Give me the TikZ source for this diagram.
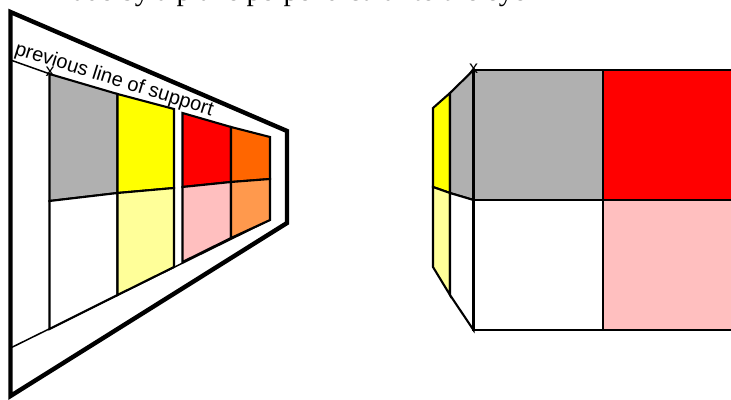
\documentclass[tikz,border=0pt]{standalone}
\usepackage{fontspec}
\setmainfont{Liberation Serif}
\setsansfont{Liberation Sans}
\definecolor{CellGray}{RGB}{176,176,176}
\definecolor{CellYellow}{RGB}{255,255,0}
\definecolor{PaleYellow}{RGB}{255,255,153}
\definecolor{CellRed}{RGB}{255,0,0}
\definecolor{CellPink}{RGB}{255,191,191}
\definecolor{CellOrange}{RGB}{255,102,0}
\definecolor{PaleOrange}{RGB}{255,153,77}
\tikzset{
  frameline/.style={draw=black,line width=4.4pt,line join=miter},
  cellline/.style={draw=black,line width=2.1pt,line join=miter},
  thinline/.style={draw=black,line width=1.5pt},
  marklabel/.style={font=\sffamily\fontsize{18}{18}\selectfont,inner sep=0pt},
  supportlabel/.style={font=\sffamily\fontsize{20}{20}\selectfont,inner sep=0pt,rotate=-17.4},
  cutlabel/.style={font=\fontsize{29}{30}\selectfont,inner sep=0pt,anchor=base west}
}
\begin{document}
\begin{tikzpicture}[x=1pt,y=-1pt]
\useasboundingbox (0,0) rectangle (731,399);
\node[cutlabel] (cutline) at (50,0.5) {made by a plane perpendicular to the eye};
% left: view along the wall
\draw[frameline] (10.5,12) -- (287,131) -- (287,223) -- (10.5,396) -- cycle;
\draw[thinline] (10.5,60) -- (50,74);
\draw[thinline] (10.5,348) -- (270,220);
\draw[cellline,fill=CellGray] (49.5,74) -- (117.5,94) -- (117.5,193) -- (49.5,201) -- cycle;
\draw[cellline,fill=white] (49.5,201) -- (117.5,193) -- (117.5,295) -- (49.5,329) -- cycle;
\draw[cellline,fill=CellYellow] (117.5,94) -- (174,109) -- (174,188) -- (117.5,193) -- cycle;
\draw[cellline,fill=PaleYellow] (117.5,193) -- (174,188) -- (174,267) -- (117.5,295) -- cycle;
\draw[cellline,fill=CellRed] (182.5,113) -- (231,127) -- (231,182) -- (182.5,187) -- cycle;
\draw[cellline,fill=CellPink] (182.5,187) -- (231,182) -- (231,238) -- (182.5,262) -- cycle;
\draw[cellline,fill=CellOrange] (231,127) -- (270,137) -- (270,179) -- (231,182) -- cycle;
\draw[cellline,fill=PaleOrange] (231,182) -- (270,179) -- (270,220) -- (231,238) -- cycle;
\node[supportlabel] (support) at (114,80) {previous line of support};
\node[marklabel] (markleft) at (50,72) {x};
% right: view across the wall
\draw[cellline,fill=CellYellow] (433,108) -- (450,93) -- (450,193) -- (433,187) -- cycle;
\draw[cellline,fill=PaleYellow] (433,187) -- (450,193) -- (450,295) -- (433,267) -- cycle;
\draw[cellline,fill=CellGray] (450,93) -- (473.5,70) -- (473.5,200) -- (450,193) -- cycle;
\draw[cellline,fill=white] (450,193) -- (473.5,200) -- (473.5,330) -- (450,295) -- cycle;
\draw[cellline,fill=CellGray] (473.5,70) rectangle (603,200);
\draw[cellline,fill=white] (473.5,200) rectangle (603,330);
\draw[cellline,fill=CellRed] (603,70) rectangle (740,200);
\draw[cellline,fill=CellPink] (603,200) rectangle (740,330);
\node[marklabel] (markright) at (473.5,68.5) {x};
\end{tikzpicture}
\end{document}
